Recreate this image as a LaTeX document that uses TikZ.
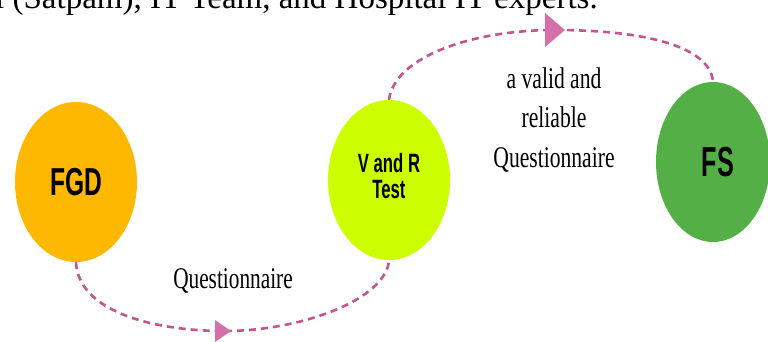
\documentclass[tikz,border=0pt]{standalone}
\usepackage{fontspec}
\setmainfont{Liberation Serif}
\newfontfamily\lsans{Liberation Sans}
\usetikzlibrary{shapes.geometric,calc}
\definecolor{cfgd}{RGB}{255,184,0}
\definecolor{cvr}{RGB}{204,255,0}
\definecolor{cfs}{RGB}{84,176,70}
\definecolor{cdash}{RGB}{194,87,143}
\definecolor{carrow}{RGB}{212,111,168}
\tikzset{
  blob/.style={ellipse, draw=none, inner sep=0pt},
  blobtext/.style={font=\lsans\bfseries},
  flow/.style={draw=cdash, line width=2.6pt, dash pattern=on 7pt off 5pt},
  tip/.style={fill=carrow, draw=none},
  serif/.style={inner sep=0pt, font=\fontsize{30}{39.5}\selectfont}
}
\begin{document}
\begin{tikzpicture}[x=1pt,y=-1pt]
\useasboundingbox (0,0) rectangle (768,342);
\clip (0,0) rectangle (768,342);
% cropped body text at the top
\node[anchor=base west, inner sep=0pt, font=\fontsize{33}{33}\selectfont] (toptext) at (-5,9) {l (Satpam), IT Team, and Hospital IT experts.};
% nodes
\node[blob, fill=cfgd, minimum width=122pt, minimum height=160pt] (fgd) at (76,182)
  {\scalebox{0.63}[1]{\fontsize{39}{39}\lsans\bfseries FGD}};
\node[blob, fill=cvr, minimum width=122pt, minimum height=160pt, align=center] (vr) at (389,180)
  {\scalebox{0.63}[1]{\fontsize{26.5}{27}\lsans\bfseries\begin{tabular}{@{}c@{}}V and R\\[-0.5pt]Test\end{tabular}}};
\node[blob, fill=cfs, minimum width=114pt, minimum height=160pt] (fs) at (713,162)
  {\hspace*{10pt}\scalebox{0.6}[1]{\fontsize{42}{42}\lsans\bfseries FS}};
% connector points
\coordinate (bmid) at (225,331);
\coordinate (tmid) at (555,30);
% bottom connector
\draw[flow] (fgd.south) .. controls (78,310) and (150,331) .. (bmid);
\draw[flow] (bmid) .. controls (300,331) and (386,300) .. (vr.south);
\fill[tip] ($(bmid)+(-10,-11)$) -- ($(bmid)+(6,0)$) -- ($(bmid)+(-10,11)$) -- cycle;
% top connector
\draw[flow] (vr.north) .. controls (394,58) and (470,30) .. (tmid);
\draw[flow] (tmid) .. controls (640,30) and (710,45) .. (fs.north);
\fill[tip] ($(tmid)+(-10,-17)$) -- ($(tmid)+(10,0)$) -- ($(tmid)+(-10,17)$) -- cycle;
% labels
\node[serif, anchor=base] (q1) at (233,288) {\scalebox{0.71}[1]{Questionnaire}};
\node[serif, anchor=center] (q2) at (554,120)
  {\scalebox{0.72}[1]{\begin{tabular}{@{}c@{}}a valid and\\reliable\\Questionnaire\end{tabular}}};
\end{tikzpicture}
\end{document}
